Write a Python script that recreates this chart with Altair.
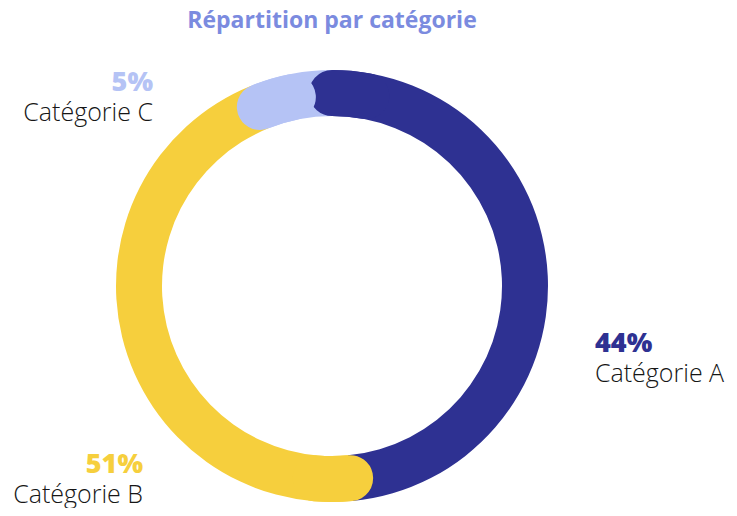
import math
import altair as alt
import pandas as pd

# ---- data ----
categories = ["Catégorie A", "Catégorie B", "Catégorie C"]
pct_labels = ["44%", "51%", "5%"]
# angular share of each ring segment as drawn in the reference
arc_share = [48.5, 45.4, 6.1]
colors = ["#2E3192", "#F6CF3D", "#B5C3F5"]
title_text = "Répartition par catégorie"

df = pd.DataFrame({"cat": categories, "share": arc_share, "pct": pct_labels})
df["end"] = df["share"].cumsum()
df["start"] = df["end"] - df["share"]
CAP = 1.9  # half width of a rounded cap, in share units
df["cap_start"] = df["start"] - CAP
df["cap_end"] = df["start"] + 2.5 * CAP

CX, CY = 324, 278
R_OUT, R_IN = 216, 170
FONT = "Open Sans"

theta_scale = alt.Scale(domain=[0, 100], range=[0, 2 * math.pi])
color_scale = alt.Scale(domain=categories, range=colors)

base = alt.Chart(df)

ring = base.mark_arc(radius=R_OUT, radius2=R_IN, stroke=None).encode(
    theta=alt.Theta("start:Q", scale=theta_scale),
    theta2=alt.Theta2("end:Q"),
    color=alt.Color("cat:N", scale=color_scale, legend=None),
    x=alt.value(CX),
    y=alt.value(CY),
)

caps = base.mark_arc(radius=R_OUT, radius2=R_IN, cornerRadius=23, stroke=None).encode(
    theta=alt.Theta("cap_start:Q", scale=theta_scale),
    theta2=alt.Theta2("cap_end:Q"),
    color=alt.Color("cat:N", scale=color_scale, legend=None),
    x=alt.value(CX),
    y=alt.value(CY),
)

title = alt.Chart(pd.DataFrame({"t": [title_text]})).mark_text(
    font=FONT, fontSize=23, fontWeight="bold", color="#7B8BDF",
    align="center", baseline="middle",
).encode(text="t:N", x=alt.value(CX), y=alt.value(13))


def label(cat, x, y_pct, y_cat, align):
    sub = base.transform_filter(alt.datum.cat == cat)
    p = sub.mark_text(font=FONT, fontSize=27, fontWeight=800, align=align,
                      baseline="middle").encode(
        text="pct:N",
        color=alt.Color("cat:N", scale=color_scale, legend=None),
        x=alt.value(x), y=alt.value(y_pct),
    )
    c = sub.mark_text(font=FONT, fontSize=25, fontWeight=300, align=align,
                      baseline="middle", color="#161616").encode(
        text="cat:N", x=alt.value(x), y=alt.value(y_cat),
    )
    return p + c


labels_a = label("Catégorie A", 587, 336, 366, "left")
labels_b = label("Catégorie B", 135, 457, 487, "right")
labels_c = label("Catégorie C", 145, 75, 105, "right")

chart = alt.layer(ring, caps, title, labels_a, labels_b, labels_c).properties(
    width=721, height=500, autosize=alt.AutoSizeParams(type="none"), padding=0,
).configure_view(stroke=None)

chart.save("out.html", embed_options={"renderer": "svg", "actions": False})
